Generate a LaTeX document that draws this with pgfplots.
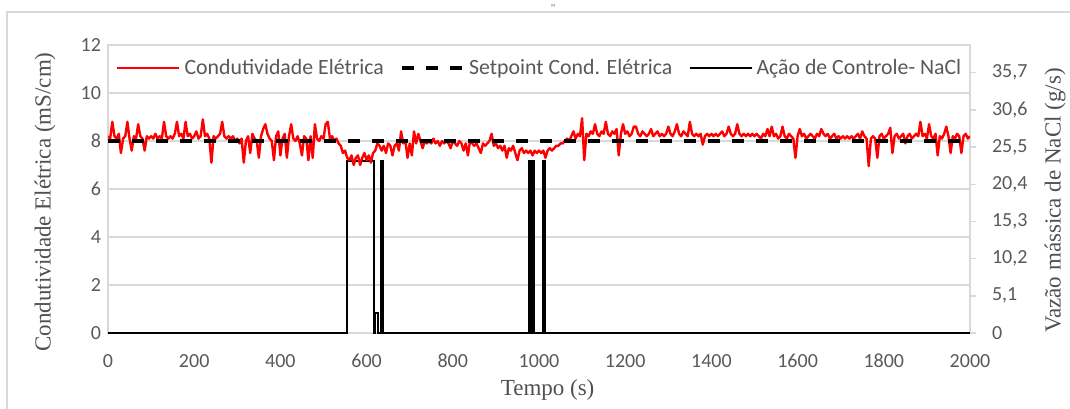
\documentclass[border=0pt]{standalone}
\usepackage{pgfplots}
\pgfplotsset{compat=1.18}
\usepackage{fontspec}
\setmainfont{Liberation Serif}
\newfontfamily\timesf{Liberation Serif}
\newfontfamily\calibri{Carlito}
\definecolor{gridgray}{HTML}{D9D9D9}
\definecolor{tickgray}{HTML}{595959}
\definecolor{titlegray}{HTML}{505050}
\begin{document}
\begin{tikzpicture}
% ---------- right axis: control action ----------
\begin{axis}[set layers,
  at={(54pt,37.5pt)}, anchor=south west, scale only axis,
  width=431pt, height=144pt,
  xmin=0, xmax=2000, ymin=0, ymax=39.5,
  axis x line=none, axis y line*=right,
  axis line style={draw=gridgray, line width=0.7pt},
  tick align=outside, major tick length=3pt,
  tick style={draw=gridgray, line width=0.7pt},
  ytick={0,5.1,10.2,15.3,20.4,25.5,30.6,35.7},
  yticklabels={0,{5,1},{10,2},{15,3},{20,4},{25,5},{30,6},{35,7}},
  /pgf/number format/assume math mode=true,
  yticklabel style={font=\calibri\fontsize{10}{12}\selectfont, text=tickgray, xshift=4.5pt},
  ylabel={Vazão mássica de NaCl (g/s)},
  every axis y label/.style={at={(axis description cs:1.0986,0.46)}, anchor=center, rotate=90,
    font=\timesf\fontsize{11.5}{13}\selectfont, text=titlegray},
]
\addplot[black, line width=1pt] coordinates {
(0,0)(555,0)(555,23.6)(618,23.6)(618,0)(620,0)(620,2.7)(626,2.7)(626,0)
(633,0)(633,23.6)(637,23.6)(637,0)(977,0)(977,23.6)(981,23.6)(981,0)
(984,0)(984,23.6)(988,23.6)(988,0)(1010,0)(1010,23.6)(1013,23.6)(1013,0)(2000,0)};
\end{axis}
% ---------- left axis: conductivity ----------
\begin{axis}[set layers,
  at={(54pt,37.5pt)}, anchor=south west, scale only axis,
  width=431pt, height=144pt,
  xmin=0, xmax=2000, ymin=0, ymax=12,
  xtick={0,200,...,2000}, ytick={0,2,...,12},
  axis line style={draw=gridgray, line width=0.7pt},
  major tick length=0pt,
  ymajorgrids, grid style={draw=gridgray, line width=0.7pt},
  /pgf/number format/assume math mode=true,
  /pgf/number format/1000 sep={},
  ticklabel style={font=\calibri\fontsize{10}{12}\selectfont, text=tickgray},
  xticklabel style={yshift=-7pt},
  xlabel={Tempo (s)},
  ylabel={Condutividade Elétrica (mS/cm)},
  every axis x label/.style={at={(axis description cs:0.51,-0.198)}, anchor=center,
    font=\timesf\fontsize{11.5}{13}\selectfont, text=titlegray},
  every axis y label/.style={at={(axis description cs:-0.0731,0.455)}, anchor=center, rotate=90,
    font=\timesf\fontsize{11.5}{13}\selectfont, text=titlegray},
  legend columns=3,
  legend style={draw=none, fill=white, at={(axis description cs:0.502,0.92)}, anchor=center,
    font=\calibri\fontsize{10.9}{12}\selectfont, text=tickgray,
    /tikz/every even column/.append style={column sep=6pt}, inner sep=1pt},
  legend image code/.code={\draw[#1] (0pt,0pt) -- (31pt,0pt);},
]
\addplot[red, line width=1.2pt, line join=round] coordinates {
(0,8.2)(5,8.1)(10,8.8)(15,8.2)(20,8.1)(25,8.3)(30,7.5)(35,8.1)(40,8.2)(45,8.8)
(50,8.1)(55,7.6)(60,8.2)(65,8.1)(70,8.7)(75,8.2)(80,8.1)(85,7.6)(90,8.2)(95,8.1)
(100,8.2)(105,8.1)(110,8.3)(115,8.1)(120,8.2)(125,8.1)(130,8.8)(135,8.2)(140,8.1)(145,8.2)
(150,8.1)(155,8.3)(160,8.8)(165,8.2)(170,8.3)(175,8.1)(180,8.8)(185,8.2)(190,8.3)(195,8.1)
(200,8.2)(205,8.4)(210,8.1)(215,8.2)(220,8.9)(225,8.2)(230,8.3)(235,8.1)(240,7.1)(245,8.2)
(250,8.1)(255,8.2)(260,8.3)(265,8.8)(270,8.2)(275,8.1)(280,8.2)(285,8.1)(290,8.2)(295,8.0)
(300,8.1)(305,7.9)(310,8.1)(315,7.1)(320,8.0)(325,8.2)(330,7.5)(335,8.3)(340,8.1)(345,8.0)
(350,7.3)(355,8.2)(360,8.5)(365,8.7)(370,8.3)(375,8.1)(380,8.0)(385,7.2)(390,8.2)(395,8.4)
(400,7.4)(405,8.1)(410,8.3)(415,7.3)(420,8.2)(425,8.7)(430,8.1)(435,8.0)(440,8.2)(445,7.9)
(450,7.4)(455,8.2)(460,8.1)(465,7.2)(470,8.2)(475,7.3)(480,8.7)(485,8.1)(490,8.0)(495,8.2)
(500,8.1)(505,8.7)(510,8.8)(515,8.1)(520,8.2)(525,8.0)(530,8.1)(535,7.9)(540,7.8)(545,7.5)
(550,7.6)(555,7.3)(560,7.2)(565,7.4)(570,7.0)(575,7.3)(580,7.4)(585,7.0)(590,7.3)(595,7.5)
(600,7.2)(605,7.4)(610,7.1)(615,7.5)(620,7.6)(625,7.9)(630,7.8)(635,7.6)(640,7.8)(645,7.5)
(650,7.9)(655,7.8)(660,7.4)(665,7.8)(670,7.9)(675,7.6)(680,8.4)(685,7.9)(690,8.0)(695,7.3)
(700,7.9)(705,7.4)(710,8.4)(715,7.9)(720,8.3)(725,8.0)(730,7.7)(735,8.0)(740,7.9)(745,8.0)
(750,7.9)(755,8.1)(760,7.9)(765,8.0)(770,7.8)(775,8.0)(780,7.9)(785,8.0)(790,7.9)(795,7.7)
(800,8.0)(805,7.9)(810,7.8)(815,8.0)(820,7.9)(825,7.6)(830,7.9)(835,7.4)(840,8.0)(845,7.9)
(850,7.8)(855,7.9)(860,7.7)(865,7.5)(870,7.9)(875,7.8)(880,7.9)(885,8.0)(890,8.3)(895,7.8)
(900,7.9)(905,7.7)(910,7.8)(915,7.6)(920,7.8)(925,7.3)(930,7.7)(935,7.6)(940,7.8)(945,7.5)
(950,7.2)(955,7.6)(960,7.7)(965,7.5)(970,7.6)(975,7.5)(980,7.6)(985,7.4)(990,7.6)(995,7.5)
(1000,7.6)(1005,7.5)(1010,7.6)(1015,7.3)(1020,7.6)(1025,7.7)(1030,7.6)(1035,7.7)(1040,7.8)(1045,7.8)
(1050,7.9)(1055,7.9)(1060,8.0)(1065,8.1)(1070,8.0)(1075,8.2)(1080,8.4)(1085,8.1)(1090,8.3)(1095,8.2)
(1100,8.95)(1105,7.2)(1110,8.3)(1115,8.2)(1120,8.4)(1125,8.3)(1130,8.7)(1135,8.3)(1140,8.2)(1145,8.4)
(1150,8.3)(1155,8.8)(1160,8.3)(1165,8.2)(1170,8.4)(1175,8.3)(1180,8.5)(1185,7.4)(1190,8.3)(1195,8.7)
(1200,8.3)(1205,8.4)(1210,8.2)(1215,8.3)(1220,8.6)(1225,8.6)(1230,8.3)(1235,8.2)(1240,8.4)(1245,8.3)
(1250,8.2)(1255,8.3)(1260,8.5)(1265,8.2)(1270,8.3)(1275,8.4)(1280,8.2)(1285,8.3)(1290,8.2)(1295,8.3)
(1300,8.6)(1305,8.3)(1310,8.2)(1315,8.4)(1320,8.7)(1325,8.3)(1330,8.2)(1335,8.4)(1340,8.3)(1345,8.2)
(1350,8.8)(1355,8.3)(1360,8.2)(1365,8.3)(1370,8.2)(1375,8.3)(1380,7.85)(1385,8.2)(1390,8.3)(1395,8.2)
(1400,8.3)(1405,8.2)(1410,8.3)(1415,8.2)(1420,8.3)(1425,8.4)(1430,8.2)(1435,8.3)(1440,8.6)(1445,8.3)
(1450,8.2)(1455,8.3)(1460,8.7)(1465,8.3)(1470,8.2)(1475,8.3)(1480,8.2)(1485,8.3)(1490,8.2)(1495,8.3)
(1500,8.2)(1505,8.3)(1510,8.2)(1515,8.1)(1520,8.3)(1525,8.2)(1530,8.5)(1535,8.2)(1540,8.6)(1545,8.2)
(1550,8.3)(1555,8.1)(1560,8.2)(1565,8.6)(1570,8.2)(1575,8.1)(1580,8.3)(1585,8.2)(1590,8.1)(1595,7.3)
(1600,8.2)(1605,8.5)(1610,8.2)(1615,8.3)(1620,8.1)(1625,8.2)(1630,8.3)(1635,8.2)(1640,8.1)(1645,8.3)
(1650,8.2)(1655,8.5)(1660,8.3)(1665,8.2)(1670,8.3)(1675,8.1)(1680,8.2)(1685,8.3)(1690,8.1)(1695,8.2)
(1700,8.1)(1705,8.2)(1710,8.1)(1715,8.2)(1720,8.1)(1725,8.2)(1730,8.1)(1735,8.2)(1740,8.3)(1745,8.1)
(1750,8.4)(1755,8.2)(1760,8.1)(1765,6.95)(1770,8.1)(1775,8.2)(1780,8.1)(1785,7.3)(1790,8.2)(1795,8.3)
(1800,8.1)(1805,8.2)(1810,8.3)(1815,8.55)(1820,7.5)(1825,8.2)(1830,8.3)(1835,8.1)(1840,8.2)(1845,8.3)
(1850,7.9)(1855,8.2)(1860,8.3)(1865,8.1)(1870,8.2)(1875,8.3)(1880,8.2)(1885,8.8)(1890,8.2)(1895,8.3)
(1900,8.1)(1905,8.7)(1910,8.2)(1915,8.1)(1920,8.3)(1925,7.4)(1930,8.2)(1935,8.1)(1940,8.3)(1945,8.6)
(1950,8.2)(1955,7.5)(1960,8.2)(1965,8.1)(1970,8.3)(1975,8.2)(1980,7.5)(1985,8.2)(1990,8.3)(1995,8.1)
(2000,8.2)};
\addlegendentry{Condutividade Elétrica}
\addplot[black, line width=1.6pt, dash pattern=on 6pt off 6pt] coordinates {(0,8)(2000,8)};
\addlegendentry{Setpoint Cond. Elétrica}
\addlegendimage{black, line width=1pt}
\addlegendentry{Ação de Controle- NaCl}
\end{axis}
\pgfresetboundingbox
\useasboundingbox (0,0) rectangle (535pt,204pt);
\draw[gridgray, line width=0.7pt] (3.5pt,-5pt) rectangle (545pt,198pt);
\node[text=gray, font=\calibri\fontsize{6}{6}\selectfont] at (276.5pt,200pt) {"};
\end{tikzpicture}
\end{document}
